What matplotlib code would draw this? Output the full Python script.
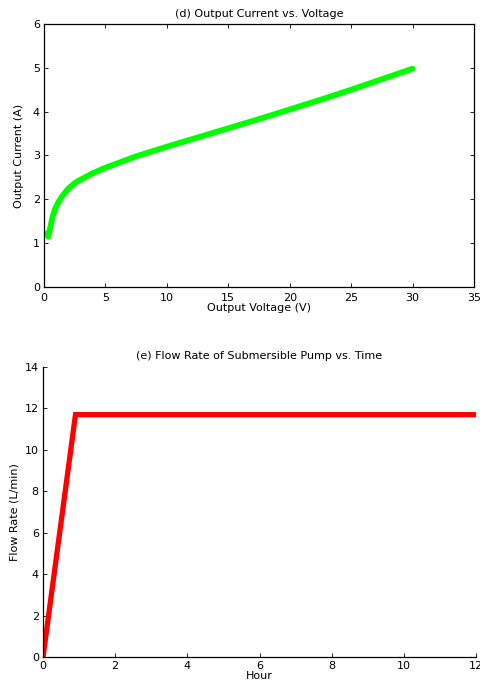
import matplotlib
matplotlib.use("Agg")
import matplotlib.pyplot as plt
import numpy as np

plt.rcParams['font.family'] = ['DejaVu Sans']
plt.rcParams['font.size'] = 8

# (d) output current vs voltage
volt = [0.2, 0.35, 0.5, 0.7, 0.9, 1.2, 1.5, 2.0, 2.5, 3.0, 4.0, 5.0, 7.5, 10, 12.5, 15, 17.5, 20, 22.5, 25, 27.5, 30]
curr = [1.22, 1.15, 1.35, 1.6, 1.78, 1.95, 2.08, 2.25, 2.37, 2.45, 2.6, 2.72, 2.98, 3.2, 3.41, 3.62, 3.83, 4.05, 4.27, 4.5, 4.74, 4.98]

# (e) flow rate of submersible pump vs time
hour = [0.0, 0.9, 12.0]
flow = [0.0, 11.7, 11.7]

fig = plt.figure(figsize=(4.8, 6.89), dpi=100)

ax1 = fig.add_axes([0.0917, 0.5835, 0.8958, 0.3817])
ax1.plot(volt, curr, color='#00ff00', lw=4.2, solid_capstyle='round', solid_joinstyle='round')
ax1.set_xlim(0, 35)
ax1.set_ylim(0, 6)
ax1.set_xticks(np.arange(0, 36, 5))
ax1.set_yticks(np.arange(0, 7, 1))
ax1.tick_params(direction='in', length=3, width=0.6, top=True, right=True, pad=3)
ax1.tick_params(axis='x', pad=4)
ax1.set_title('(d) Output Current vs. Voltage', fontsize=8, pad=5)
ax1.set_xlabel('Output Voltage (V)', labelpad=0)
ax1.set_ylabel('Output Current (A)', labelpad=6)
for s in ax1.spines.values():
    s.set_linewidth(0.9)

ax2 = fig.add_axes([0.0896, 0.0464, 0.9021, 0.4209])
ax2.plot(hour, flow, color='#ff0000', lw=3.8, solid_capstyle='round', solid_joinstyle='miter')
ax2.set_xlim(0, 12)
ax2.set_ylim(0, 14)
ax2.set_xticks(np.arange(0, 13, 2))
ax2.set_yticks(np.arange(0, 15, 2))
ax2.tick_params(direction='in', length=3, width=0.6, pad=3)
ax2.spines['top'].set_visible(False)
ax2.spines['right'].set_visible(False)
for s in ['left', 'bottom']:
    ax2.spines[s].set_linewidth(0.9)
ax2.set_title('(e) Flow Rate of Submersible Pump vs. Time', fontsize=8, pad=6)
ax2.set_xlabel('Hour', labelpad=0)
ax2.set_ylabel('Flow Rate (L/min)', labelpad=4)

fig.savefig('out.png', dpi=100)
